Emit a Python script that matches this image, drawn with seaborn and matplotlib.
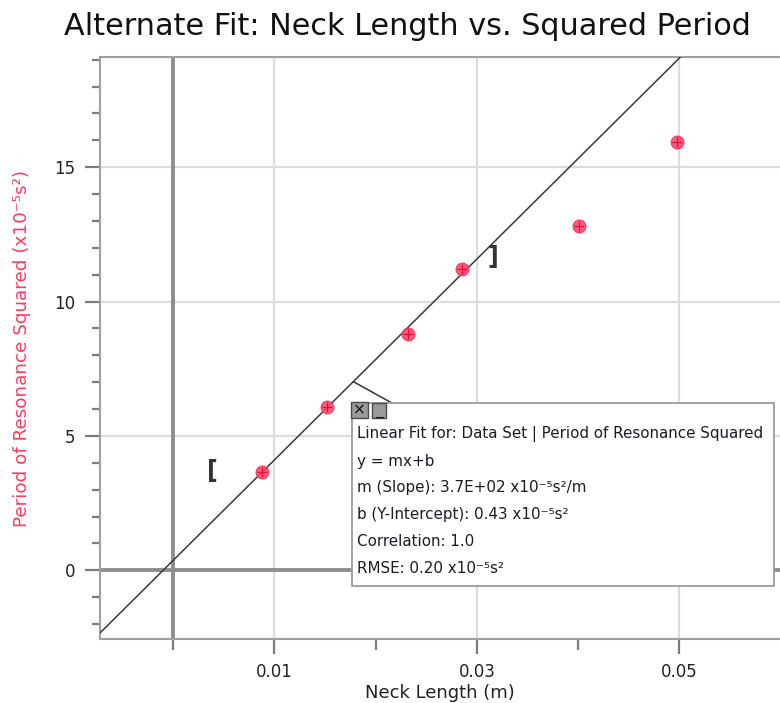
import numpy as np
import pandas as pd
import matplotlib
matplotlib.use("Agg")
import matplotlib.pyplot as plt
import seaborn as sns
from matplotlib.patches import Rectangle
from matplotlib.ticker import FixedLocator, MultipleLocator

# ---------------- data ----------------
neck_length = [0.00876, 0.01518, 0.02318, 0.02857, 0.04012, 0.04974]
period_sq = [3.67, 6.09, 8.80, 11.20, 12.82, 15.92]
fit_count = 4                      # points used in the linear fit
fit_range = [0.0039, 0.0316]       # bracketed fit region
bracket_y = [3.70, 11.66]
callout_x = 0.0178
x_major = [0.01, 0.03, 0.05]
x_major_labels = ["0.01", "0.03", "0.05"]
x_minor = [0.0, 0.02, 0.04]
y_major = [0, 5, 10, 15]
title = "Alternate Fit: Neck Length vs. Squared Period"
xlabel = "Neck Length (m)"
ylabel = "Period of Resonance Squared (x10\u207b\u2075s\u00b2)"
box_lines = [
    "Linear Fit for: Data Set | Period of Resonance Squared",
    "y = mx+b",
    "m (Slope): 3.7E+02 x10\u207b\u2075s\u00b2/m",
    "b (Y-Intercept): 0.43 x10\u207b\u2075s\u00b2",
    "Correlation: 1.0",
    "RMSE: 0.20 x10\u207b\u2075s\u00b2",
]

df = pd.DataFrame({"x": neck_length, "y": period_sq})

sns.set_theme(style="white")
plt.rcParams["font.family"] = ["DejaVu Sans"]

W, H = 780, 703
AX_L, AX_R, AX_T, AX_B = 100, 780, 57.3, 639.3
fig = plt.figure(figsize=(W / 100, H / 100), dpi=100)
ax = fig.add_axes([AX_L / W, 1 - AX_B / H, (AX_R - AX_L) / W, (AX_B - AX_T) / H])

xlim = (-0.007215, 0.05994)
ylim = (-2.568, 19.09)
ax.set_xlim(*xlim)
ax.set_ylim(*ylim)


def axf(px, py):
    return ((px - AX_L) / (AX_R - AX_L), (AX_B - py) / (AX_B - AX_T))


# grid lines
for xv in x_major:
    ax.axvline(xv, color="#dcdcdc", lw=1.6, zorder=0)
for yv in y_major[1:]:
    ax.axhline(yv, color="#dcdcdc", lw=1.6, zorder=0)
# zero axes
ax.axvline(0, color="#8e8e8e", lw=2.8, zorder=1)
ax.axhline(0, color="#8e8e8e", lw=2.8, zorder=1)

# linear fit on the first points
m, b = np.polyfit(df["x"][:fit_count], df["y"][:fit_count], 1)
xs = np.linspace(xlim[0], xlim[1], 200)
sns.lineplot(x=xs, y=m * xs + b, ax=ax, color="#3a3a3a", lw=1.1, zorder=3)

# data points (circle with plus)
sns.scatterplot(data=df, x="x", y="y", ax=ax, s=85, color="#ff4a6e",
                edgecolor="#ff2a55", linewidth=0.8, alpha=0.9, zorder=4)
ax.scatter(df["x"], df["y"], marker="+", s=50, color="#e0103c", linewidths=0.9, zorder=5)

# brackets for fit range
ax.text(fit_range[0], bracket_y[0], "[", ha="center", va="center", fontsize=17,
        fontweight="bold", color="#333333", zorder=4)
ax.text(fit_range[1], bracket_y[1], "]", ha="center", va="center", fontsize=17,
        fontweight="bold", color="#333333", zorder=4)

# callout line
ax.annotate("", xy=(callout_x, m * callout_x + b), xycoords="data",
            xytext=axf(391, 402.5), textcoords="axes fraction",
            arrowprops=dict(arrowstyle="-", color="#333333", lw=1.1,
                            shrinkA=0, shrinkB=0), zorder=6)

# annotation box
bx0, by0 = axf(351.7, 586)
bx1, by1 = axf(774.3, 402.5)
ax.add_patch(Rectangle((bx0, by0), bx1 - bx0, by1 - by0, transform=ax.transAxes,
                       facecolor="white", edgecolor="#9c9c9c", lw=1.3,
                       zorder=7, clip_on=False))
# buttons
for (p0, p1, sym) in [((350.5, 418), (367.5, 402), "\u00d7"), ((371.5, 418), (385.5, 403), "_")]:
    a0 = axf(*p0)
    a1 = axf(*p1)
    ax.add_patch(Rectangle(a0, a1[0] - a0[0], a1[1] - a0[1], transform=ax.transAxes,
                           facecolor="#9a9a9a", edgecolor="#4a4a4a", lw=1.0,
                           zorder=8, clip_on=False))
    ax.text((a0[0] + a1[0]) / 2, (a0[1] + a1[1]) / 2, sym, transform=ax.transAxes,
            ha="center", va="center", fontsize=11, color="#111111", zorder=9)

for i, line in enumerate(box_lines):
    tx, ty = axf(357.3, 434.3 + i * 26.8)
    ax.text(tx, ty, line, transform=ax.transAxes, ha="left", va="center",
            fontsize=10.9, color="#1c1c24", zorder=9)

# ticks
ax.xaxis.set_major_locator(FixedLocator(x_major))
ax.set_xticklabels(x_major_labels)
ax.xaxis.set_minor_locator(FixedLocator(x_minor))
ax.yaxis.set_major_locator(FixedLocator(y_major))
ax.yaxis.set_minor_locator(MultipleLocator(1))
ax.tick_params(axis="both", which="major", direction="out", length=11, width=1.6,
               color="#7c7c7c", labelsize=12, labelcolor="#222222")
ax.tick_params(axis="both", which="minor", direction="out", length=6, width=1.6,
               color="#7c7c7c")
ax.tick_params(axis="x", which="major", pad=6, bottom=True)
ax.tick_params(axis="x", which="minor", bottom=True, length=8)
ax.tick_params(axis="y", which="major", pad=7, left=True)
ax.tick_params(axis="y", which="minor", left=True)

for side in ["left", "top", "bottom"]:
    ax.spines[side].set_color("#a0a0a0")
    ax.spines[side].set_linewidth(1.5)
ax.spines["right"].set_visible(False)

ax.set_xlabel(xlabel, fontsize=13, color="#222222")
ax.xaxis.label.set_va("center")
ax.xaxis.set_label_coords(0.5, axf(0, 693)[1])
ax.set_ylabel(ylabel, fontsize=13.2, color="#ff3b5f")
ax.yaxis.label.set_va("center")
ax.yaxis.set_label_coords(axf(22, 0)[0], 0.5)

fig.text(407 / W, 1 - 26.5 / H, title, ha="center", va="center", fontsize=21.8, color="#111111")

fig.savefig("out.png", dpi=100)
